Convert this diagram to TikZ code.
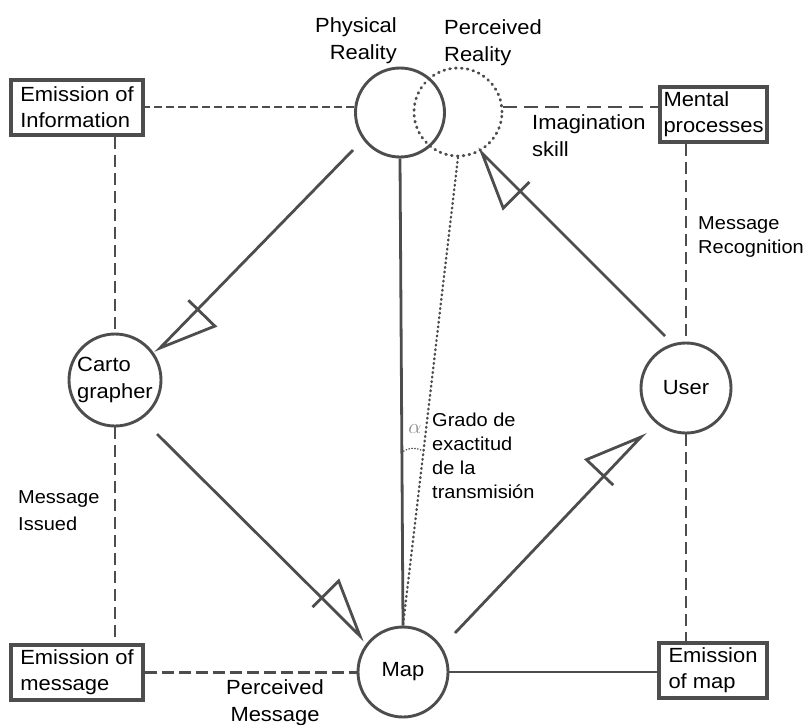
\documentclass[tikz,border=0pt]{standalone}
\usepackage{fontspec}
\setmainfont{Liberation Sans}[FakeStretch=1.07]
\usetikzlibrary{calc}
\definecolor{lc}{HTML}{4d4d4d}
\definecolor{ac}{HTML}{8a8a8a}
\newcommand\arrowhd[2]{%
  \path ($(#2)!54pt!(#1)$) coordinate (hb);
  \draw[conn] (#1) -- (#2) -- ($(hb)!24pt!-90:(#1)$) -- ($(hb)!13pt!90:(#1)$);}
\begin{document}
\begin{tikzpicture}[x=1pt,y=-1pt,
  lbl/.style={font=\fontsize{20.5}{27}\selectfont, inner sep=0pt, align=left},
  sm/.style={font=\fontsize{18.7}{24}\selectfont, inner sep=0pt, align=left},
  box/.style={draw=lc, line width=3.5pt, inner sep=0pt, minimum height=55pt,
    font=\fontsize{20.5}{26}\selectfont, align=left},
  circ/.style={circle, draw=lc, line width=2.9pt, inner sep=0pt,
    font=\fontsize{20.5}{27}\selectfont, align=left},
  conn/.style={draw=lc, line width=2.8pt, line join=miter},
  dsh/.style={draw=lc, line width=2.3pt, dash pattern=on 12pt off 6pt},
  dshA/.style={draw=lc, line width=2pt, dash pattern=on 8pt off 4pt},
  dots/.style={draw=lc, line width=2.8pt, line cap=round, dash pattern=on 0.9pt off 5pt},
]
\useasboundingbox (0,0) rectangle (803,724);

% boxes
\node[box, minimum width=132pt] (emi) at (77,107.5) {Emission of\\Information};
\node[box, minimum width=107pt] (mental) at (713.5,114.5) {Mental\\processes};
\node[box, minimum width=132pt] (emsg) at (77,672.5) {Emission of\\message};
\node[box, minimum width=108pt] (emap) at (713,670.5) {Emission\\of map};

% circles
\node[circ, minimum size=89pt] (phys) at (400,112.5) {};
\node[circle, dots, inner sep=0pt, minimum size=88pt] (perc) at (458,112) {};
\node[circ, minimum size=92pt] (carto) at (115,380) {\rule{0pt}{10pt}Carto\\grapher};
\node[circ, minimum size=90pt] (user) at (686,388) {User};
\node[circ, minimum size=90pt] (mp) at (403,672) {Map};

% labels
\node[lbl, align=right, anchor=north east] (tphys) at (397,17) {Physical\\Reality};
\node[lbl, anchor=north west] (tperc) at (444,19) {Perceived\\Reality};
\node[lbl, anchor=north west] (timag) at (532,114) {Imagination\\skill};
\node[sm, anchor=north west] (trec) at (698,216) {Message\\Recognition};
\node[sm, font=\fontsize{18.7}{27}\selectfont, anchor=north west] (tiss) at (18,490) {Message\\Issued};
\node[lbl, align=center, anchor=north] (tpm) at (275,679) {Perceived\\Message};
\node[sm, anchor=north west] (tgrado) at (432,413) {Grado de\\exactitud\\de la\\transmisión};
\node[inner sep=0pt, text=ac, font=\fontsize{20}{20}\selectfont] (alpha) at (415,429) {$\alpha$};

% dashed links
\draw[dshA] (phys.173.5) -- (phys.173.5 -| emi.east);
\draw[dsh, dash pattern=on 14pt off 7pt] (perc.6.5) -- (perc.6.5 -| mental.west);
\draw[dsh] (carto.north |- emi.south) -- (carto.north);
\draw[dsh] (carto.south) -- (carto.south |- emsg.north);
\draw[dsh] (user.north |- mental.south) -- (user.north);
\draw[dsh] (user.south) -- (user.south |- emap.north);
\draw[dsh, dash pattern=on 12pt off 5pt] (emsg.east) -- (emsg.east -| mp.west);
\draw[conn] (mp.east) -- (mp.east -| emap.west);

% central lines
\draw[conn] (phys.south) -- (mp.north);
\draw[draw=lc, line width=2.4pt, line cap=round, dash pattern=on 0.8pt off 3.8pt] (perc.south) -- (mp.north);
\draw[draw=lc, line width=1.5pt, line cap=round, dash pattern=on 0.3pt off 2.6pt]
  (401.5,453) .. controls (407,447.5) and (416,447) .. (423,451);

% arrows
\coordinate (a1s) at (353,150); \coordinate (a1t) at (160,348);
\coordinate (a2s) at (157,434); \coordinate (a2t) at (360,636);
\coordinate (a3s) at (455,633); \coordinate (a3t) at (641,437);
\coordinate (a4s) at (665,336); \coordinate (a4t) at (482,153);
\arrowhd{a1s}{a1t}
\arrowhd{a2s}{a2t}
\arrowhd{a3s}{a3t}
\arrowhd{a4s}{a4t}
\end{tikzpicture}
\end{document}
